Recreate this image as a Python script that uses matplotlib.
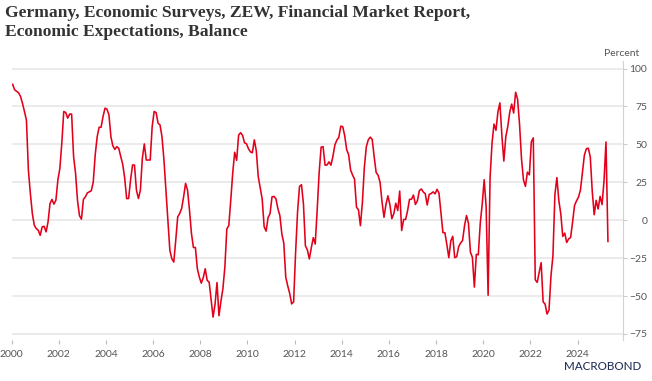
import numpy as np
import matplotlib
matplotlib.use("Agg")
import matplotlib.pyplot as plt

# ZEW economic expectations, monthly balance (Jan 2000 - Apr 2025)
start_year = 2000
zew_2000s = [
    89.6, 86.0, 85.0, 84.0, 81.6, 77.0, 71.7, 66.0, 33.0, 17.6, 4.4, -3.3,
    -5.5, -6.6, -10.0, -4.4, -4.0, -7.7, -1.1, 11.0, 13.7, 10.6, 13.2, 26.5,
    34.0, 50.7, 71.7, 71.0, 67.3, 70.0, 70.0, 42.0, 31.0, 13.0, 3.0, 0.7,
    13.7, 15.4, 18.0, 18.7, 19.4, 25.0, 43.0, 55.0, 61.3, 61.3, 68.4, 73.9,
    73.2, 69.5, 55.0, 49.0, 46.7, 48.5, 47.4, 42.0, 37.0, 28.0, 14.3, 14.3,
    26.5, 36.4, 36.4, 19.8, 14.3, 19.8, 40.8, 50.3, 39.7, 39.7, 39.7, 61.7,
    71.7, 71.0, 64.0, 62.8, 55.0, 39.7, 19.8, 0.0, -19.8, -25.4, -27.6, -13.2,
    2.2, 4.4, 7.7, 15.4, 24.3, 19.8, 6.6, -8.8, -18.0, -18.0, -32.0, -37.5,
    -41.5, -37.9, -32.0, -39.7, -40.8, -52.4, -63.9, -55.5, -41.1, -63.0, -53.5, -45.2,
    -31.0, -5.8, -3.5, 13.0, 31.1, 44.8, 39.5, 56.1, 57.7, 56.0, 51.1, 50.4,
]
zew_2010s = [
    47.2, 45.1, 44.5, 53.0, 45.8, 28.7, 21.2, 14.0, -4.3, -7.2, 1.8, 4.3,
    15.4, 15.7, 14.1, 7.6, 3.1, -9.0, -15.1, -37.6, -43.3, -48.3, -55.2, -53.8,
    -21.6, 5.4, 22.3, 23.4, 10.8, -16.9, -19.6, -25.5, -18.2, -11.5, -15.7, 6.9,
    31.5, 48.2, 48.5, 36.3, 36.4, 38.5, 36.3, 42.0, 49.6, 52.8, 54.6, 62.0,
    61.7, 55.7, 46.6, 43.2, 33.1, 29.8, 27.1, 8.6, 6.9, -3.6, 11.5, 34.9,
    48.4, 53.0, 54.8, 53.3, 41.9, 31.5, 29.7, 25.0, 12.1, 1.9, 10.4, 16.1,
    10.2, 1.0, 4.3, 11.2, 6.4, 19.2, -6.8, 0.5, 0.5, 6.2, 13.8, 13.8,
    16.6, 10.4, 12.8, 19.5, 20.6, 18.6, 17.5, 10.0, 17.0, 17.6, 18.7, 17.4,
    20.4, 17.8, 5.1, -8.2, -8.2, -16.1, -24.7, -13.7, -10.6, -24.7, -24.1, -17.5,
    -15.0, -13.4, -3.6, 3.1, -2.1, -21.1, -24.5, -44.1, -22.5, -22.8, -2.1, 10.7,
]
zew_2020s = [
    26.7, 8.7, -49.5, 28.2, 51.0, 63.4, 59.3, 71.5, 77.4, 56.1, 39.0, 55.0,
    61.8, 71.2, 76.6, 70.7, 84.4, 79.8, 63.3, 40.4, 26.5, 22.3, 31.7, 29.9,
    51.7, 54.3, -39.3, -41.0, -34.3, -28.0, -53.8, -55.3, -61.9, -59.2, -36.7, -23.3,
    16.9, 28.1, 13.0, 4.1, -10.7, -8.5, -14.7, -12.3, -11.4, -1.1, 9.8, 12.8,
    15.2, 19.9, 31.7, 42.9, 47.1, 47.5, 41.8, 19.2, 3.6, 13.1, 7.4, 15.7,
    10.3, 26.0, 51.6, -14.0,
]
x_ticks = list(range(2000, 2025, 2))
y_ticks = [-75, -50, -25, 0, 25, 50, 75, 100]

values = np.array(zew_2000s + zew_2010s + zew_2020s)
# mid-month positions in decimal years
t = start_year + (np.arange(len(values)) + 0.5) / 12

fig = plt.figure(figsize=(6.52, 3.81), dpi=100)
ax = fig.add_axes([11.7 / 652, 1 - 340 / 381, (623 - 11.7) / 652, 279 / 381])

ax.plot(t, values, color="#e3001b", lw=1.15, zorder=3)

ax.set_xlim(2000, 2025.93)
ax.set_ylim(-79, 105)
ax.set_yticks(y_ticks)
ax.set_xticks(x_ticks)
ax.grid(axis="y", color="#e6e6e6", lw=1.1)
ax.set_axisbelow(True)

for s in ["top", "left", "bottom"]:
    ax.spines[s].set_visible(False)
ax.spines["right"].set_color("#d2d2d2")
ax.spines["right"].set_linewidth(0.8)

ax.yaxis.tick_right()
ax.tick_params(axis="y", length=3, color="#cccccc", width=0.8, pad=14.4,
               labelsize=7.5, labelcolor="#555555")
for lab in ax.get_yticklabels():
    lab.set_horizontalalignment("right")
    lab.set_fontfamily("Lato")
ax.tick_params(axis="x", length=3, color="#bbbbbb", width=0.8, pad=4,
               labelsize=7.5, labelcolor="#555555")
for lab in ax.get_xticklabels():
    lab.set_fontfamily("Lato")

fig.text(639 / 652, 1 - 53 / 381, "Percent", ha="right", va="center",
         fontsize=7.5, color="#555555", family="Lato")

fig.text(5 / 652, 1 - 5 / 381,
         "Germany, Economic Surveys, ZEW, Financial Market Report,\nEconomic Expectations, Balance",
         ha="left", va="top", fontsize=12.6, fontweight="bold", color="#333333",
         family="Liberation Serif", linespacing=1.22)

fig.text(641 / 652, 1 - 367 / 381, "MACROBOND", ha="right", va="center",
         fontsize=8.4, color="#27335c", family="Lato", fontweight="medium")

fig.savefig("out.png", dpi=100)
